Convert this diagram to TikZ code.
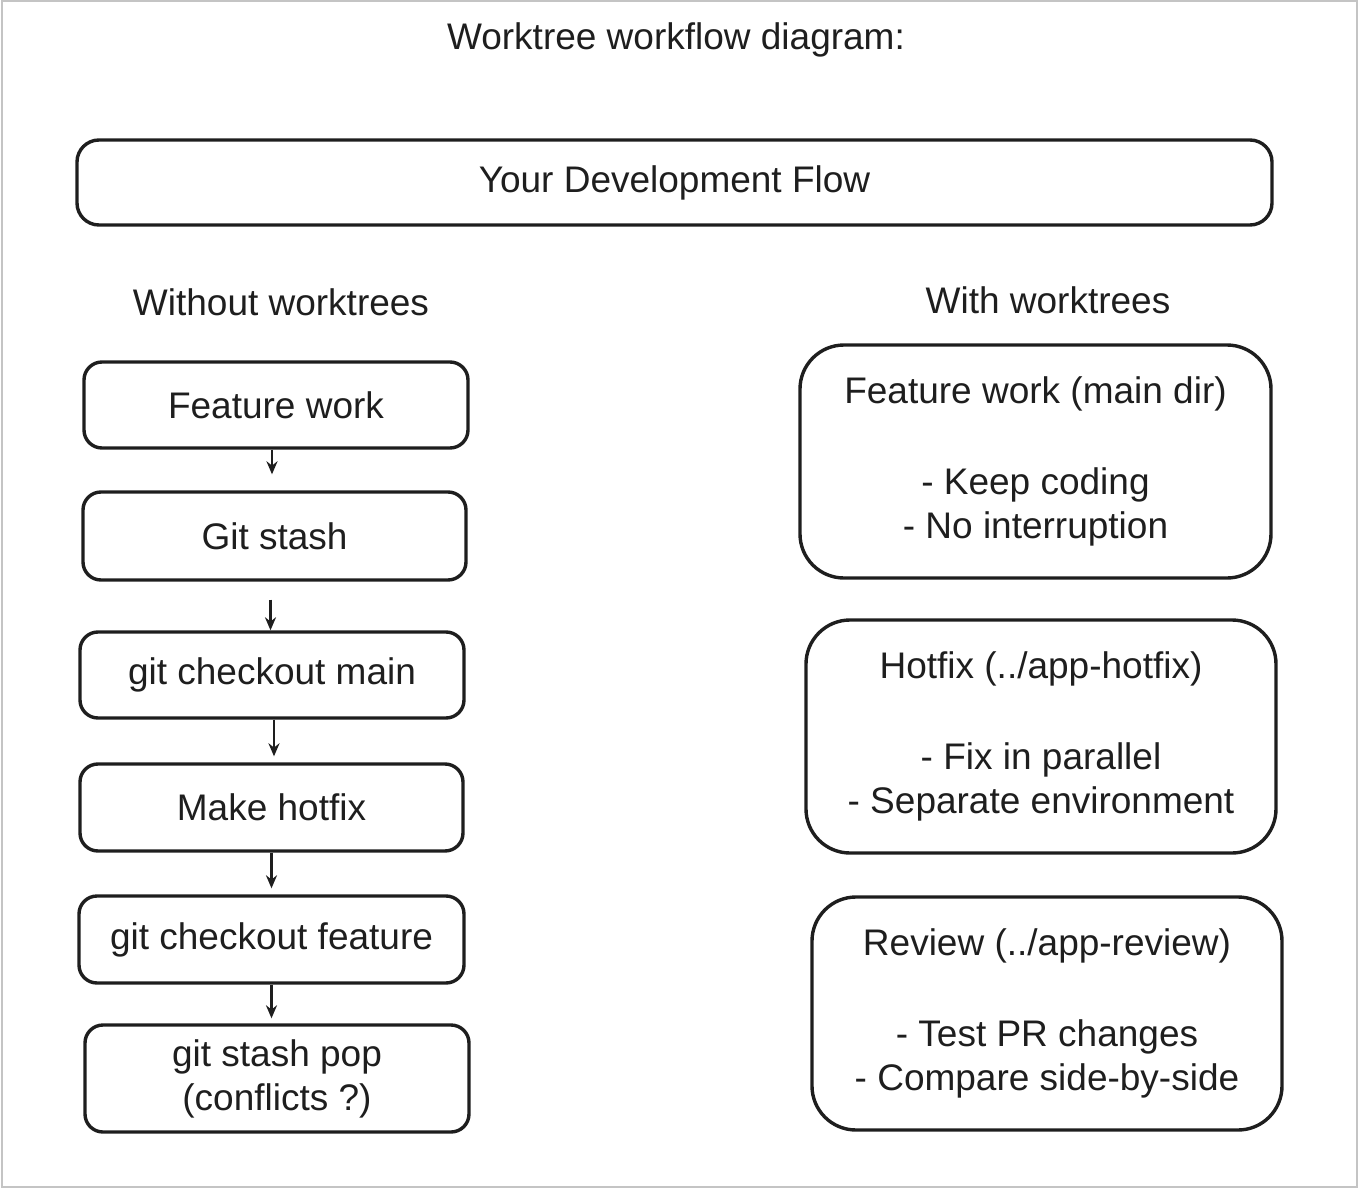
\documentclass[tikz,border=0pt]{standalone}
\usepackage{fontspec}
\setmainfont{Liberation Sans}
\usepackage{xcolor}
\usetikzlibrary{arrows.meta, positioning, calc}
\definecolor{wtInk}{HTML}{1E1E1E}
\definecolor{wtFrame}{HTML}{C4C4C4}

\begin{document}
\begin{tikzpicture}[x=1pt,y=-1pt,
  txt/.style={font=\fontsize{37}{44}\selectfont,text=wtInk,inner sep=0pt},
  stepbox/.style={txt,draw=wtInk,line width=3.4pt,rounded corners=18pt,align=center},
  notebox/.style={txt,draw=wtInk,line width=3.4pt,rounded corners=44pt,align=center,
    minimum width=470pt,minimum height=233pt},
  arr/.style={draw=wtInk,line width=2.4pt,-{Stealth[length=13pt,width=11pt]}}]
\useasboundingbox (0,0) rectangle (1358,1188);
\draw[wtFrame,line width=2pt] (1.5,1.5) rectangle (1356.5,1186.5);

% headings
\node[txt] (title) at (676,40) {Worktree workflow diagram:};
\node[stepbox,rounded corners=22pt,minimum width=1195pt,minimum height=85pt] (flow) at (674.5,182.5) {Your Development Flow};
\node[txt] (woWT) at (281,302) {Without worktrees};
\node[txt] (wWT) at (1048,300) {With worktrees};

% without worktrees
\node[stepbox,minimum width=384pt,minimum height=86pt] (feat) at (276,405) {Feature work};
\node[stepbox,minimum width=383pt,minimum height=88pt] (stash) at (274.5,536) {Git stash};
\node[stepbox,minimum width=384pt,minimum height=86pt] (coMain) at (272,675) {git checkout main};
\node[stepbox,minimum width=383pt,minimum height=87pt] (hotfix) at (271.5,807.5) {Make hotfix};
\node[stepbox,minimum width=385pt,minimum height=87pt] (coFeat) at (271.5,939.5) {git checkout feature};
\node[stepbox,minimum width=384pt,minimum height=107pt] (pop) at (277,1078.5) {git stash pop\\(conflicts ?)};

\coordinate (a1) at ([xshift=-4pt]feat.south);
\coordinate (a2) at ([xshift=-4pt]stash.south);
\coordinate (a3) at ([xshift=2pt]coMain.south);
\draw[arr,shorten >=16pt] (a1) -- (a1 |- stash.north);
\draw[arr,shorten <=18pt] (a2) -- (a2 |- coMain.north);
\draw[arr,shorten >=6pt] (a3) -- (a3 |- hotfix.north);
\draw[arr,shorten >=6pt] (hotfix.south) -- (hotfix.south |- coFeat.north);
\draw[arr,shorten >=5pt] (coFeat.south) -- (coFeat.south |- pop.north);

% with worktrees
\node[notebox,minimum width=471pt] (rFeat) at (1035.5,461.5) {Feature work (main dir)\\[47pt]- Keep coding\\- No interruption};
\node[notebox] (rHot) at (1041,736.5) {Hotfix (../app-hotfix)\\[47pt]- Fix in parallel\\- Separate environment};
\node[notebox] (rRev) at (1047,1013.5) {Review (../app-review)\\[47pt]- Test PR changes\\- Compare side-by-side};
\end{tikzpicture}
\end{document}
